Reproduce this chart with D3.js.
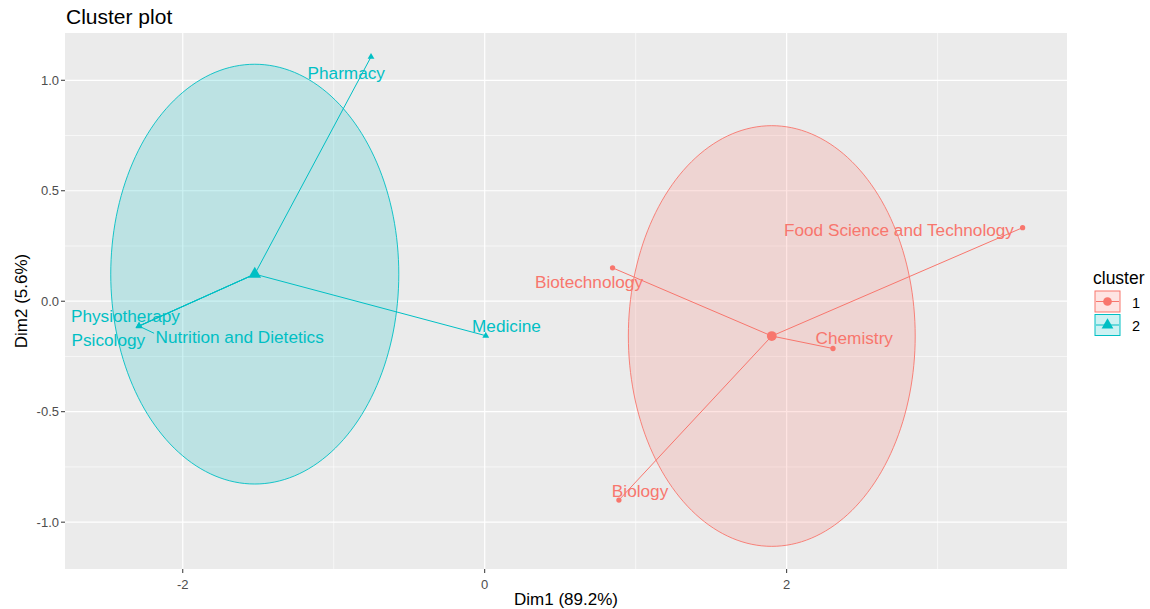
<!DOCTYPE html>
<html>
<head>
<meta charset="utf-8">
<script src="https://cdn.jsdelivr.net/npm/d3@7"></script>
<style>
  body { margin: 0; background: #fff; }
  text { font-family: "Liberation Sans", Arial, sans-serif; }
</style>
</head>
<body>
<div id="plot"></div>
<script>
// data
const names = ["Pharmacy", "Medicine", "Physiotherapy", "Psicology", "Nutrition and Dietetics",
  "Food Science and Technology", "Biotechnology", "Chemistry", "Biology"];
const dim1 = [-0.753, 0.007, -2.29, -2.29, -2.289, 3.563, 0.847, 2.307, 0.889];
const dim2 = [1.106, -0.156, -0.112, -0.112, -0.113, 0.333, 0.151, -0.214, -0.900];
const clusterOf = [2, 2, 2, 2, 2, 1, 1, 1, 1];
const clusters = [1, 2];
const ellipseRx = [0.950, 0.954];
const ellipseRy = [0.952, 0.950];
const xTicks = [-2, 0, 2];
const yTicks = [-1.0, -0.5, 0.0, 0.5, 1.0];

// label placement (repelled, in data units)
const labelAt = {
  "Pharmacy": [-0.917, 1.034],
  "Medicine": [0.144, -0.112],
  "Physiotherapy": [-2.380, -0.067],
  "Psicology": [-2.493, -0.175],
  "Nutrition and Dietetics": [-1.623, -0.163],
  "Food Science and Technology": [2.744, 0.324],
  "Biotechnology": [0.691, 0.088],
  "Chemistry": [2.448, -0.166],
  "Biology": [1.029, -0.857]
};
const segmentTo = { "Nutrition and Dietetics": [-2.19, -0.145] };

const width = 1150, height = 609;
const panel = { left: 65, right: 1067, top: 33, bottom: 569 };
const colors = { 1: "#F8766D", 2: "#00BFC4" };

const svg = d3.select("#plot").append("svg")
  .attr("width", width)
  .attr("height", height);

const x = d3.scaleLinear().domain([-2.78, 3.857]).range([panel.left, panel.right]);
const y = d3.scaleLinear().domain([-1.212, 1.214]).range([panel.bottom, panel.top]);

// panel background
svg.append("rect")
  .attr("x", panel.left).attr("y", panel.top)
  .attr("width", panel.right - panel.left).attr("height", panel.bottom - panel.top)
  .attr("fill", "#EBEBEB");

// grid lines, minor then major
const grid = svg.append("g");
const xMinor = [-1, 1, 3];
const yMinor = [-0.75, -0.25, 0.25, 0.75];
grid.selectAll(".xminor").data(xMinor).join("line")
  .attr("x1", d => x(d)).attr("x2", d => x(d))
  .attr("y1", panel.top).attr("y2", panel.bottom)
  .attr("stroke", "#fff").attr("stroke-width", 0.6);
grid.selectAll(".yminor").data(yMinor).join("line")
  .attr("y1", d => y(d)).attr("y2", d => y(d))
  .attr("x1", panel.left).attr("x2", panel.right)
  .attr("stroke", "#fff").attr("stroke-width", 0.6);
grid.selectAll(".xmajor").data(xTicks).join("line")
  .attr("x1", d => x(d)).attr("x2", d => x(d))
  .attr("y1", panel.top).attr("y2", panel.bottom)
  .attr("stroke", "#fff").attr("stroke-width", 1.2);
grid.selectAll(".ymajor").data(yTicks).join("line")
  .attr("y1", d => y(d)).attr("y2", d => y(d))
  .attr("x1", panel.left).attr("x2", panel.right)
  .attr("stroke", "#fff").attr("stroke-width", 1.2);

// points grouped by cluster
const pts = names.map((n, i) => ({ name: n, x: dim1[i], y: dim2[i], cluster: clusterOf[i] }));
const centers = clusters.map((c, k) => {
  const members = pts.filter(p => p.cluster === c);
  return { cluster: c, x: d3.mean(members, p => p.x), y: d3.mean(members, p => p.y),
    rx: ellipseRx[k], ry: ellipseRy[k] };
});

// ellipses
const angles = d3.range(0, 2 * Math.PI, Math.PI / 90);
const line = d3.line().x(d => x(d[0])).y(d => y(d[1])).curve(d3.curveLinearClosed);
svg.append("g").selectAll("path").data(centers).join("path")
  .attr("d", c => line(angles.map(a => [c.x + c.rx * Math.cos(a), c.y + c.ry * Math.sin(a)])))
  .attr("fill", c => colors[c.cluster])
  .attr("fill-opacity", 0.2)
  .attr("stroke", c => colors[c.cluster])
  .attr("stroke-width", 0.9);

// star lines from centroid
const centerOf = c => centers.find(k => k.cluster === c);
svg.append("g").selectAll("line").data(pts).join("line")
  .attr("x1", p => x(centerOf(p.cluster).x)).attr("y1", p => y(centerOf(p.cluster).y))
  .attr("x2", p => x(p.x)).attr("y2", p => y(p.y))
  .attr("stroke", p => colors[p.cluster])
  .attr("stroke-width", 1);

// label segments
svg.append("g").selectAll("line").data(pts.filter(p => segmentTo[p.name])).join("line")
  .attr("x1", p => x(p.x)).attr("y1", p => y(p.y))
  .attr("x2", p => x(segmentTo[p.name][0])).attr("y2", p => y(segmentTo[p.name][1]))
  .attr("stroke", p => colors[p.cluster])
  .attr("stroke-width", 1);

// point symbols
const symbolFor = (c, size) => d3.symbol().type(c === 1 ? d3.symbolCircle : d3.symbolTriangle).size(size)();
svg.append("g").selectAll("path").data(pts).join("path")
  .attr("transform", p => `translate(${x(p.x)},${y(p.y)})`)
  .attr("d", p => symbolFor(p.cluster, p.cluster === 1 ? 22 : 20))
  .attr("fill", p => colors[p.cluster]);
svg.append("g").selectAll("path").data(centers).join("path")
  .attr("transform", c => `translate(${x(c.x)},${y(c.y)})`)
  .attr("d", c => symbolFor(c.cluster, c.cluster === 1 ? 75 : 70))
  .attr("fill", c => colors[c.cluster]);

// point labels
svg.append("g").selectAll("text").data(pts).join("text")
  .attr("x", p => x(labelAt[p.name][0]))
  .attr("y", p => y(labelAt[p.name][1]))
  .attr("text-anchor", "middle")
  .attr("dominant-baseline", "central")
  .attr("font-size", 17.2)
  .attr("fill", p => colors[p.cluster])
  .text(p => p.name);

// axes
const axisCol = "#4D4D4D";
const hyphen = s => s.replace("\u2212", "-");
svg.append("g").selectAll("line").data(xTicks).join("line")
  .attr("x1", d => x(d)).attr("x2", d => x(d))
  .attr("y1", panel.bottom).attr("y2", panel.bottom + 4)
  .attr("stroke", "#333").attr("stroke-width", 1);
svg.append("g").selectAll("text").data(xTicks).join("text")
  .attr("x", d => x(d)).attr("y", panel.bottom + 15)
  .attr("text-anchor", "middle").attr("dominant-baseline", "central")
  .attr("font-size", 13).attr("fill", axisCol)
  .text(d => hyphen(d3.format("d")(d)));
svg.append("g").selectAll("line").data(yTicks).join("line")
  .attr("y1", d => y(d)).attr("y2", d => y(d))
  .attr("x1", panel.left - 4).attr("x2", panel.left)
  .attr("stroke", "#333").attr("stroke-width", 1);
svg.append("g").selectAll("text").data(yTicks).join("text")
  .attr("x", panel.left - 6).attr("y", d => y(d))
  .attr("text-anchor", "end").attr("dominant-baseline", "central")
  .attr("font-size", 13).attr("fill", axisCol)
  .text(d => hyphen(d3.format(".1f")(d)));

svg.append("text")
  .attr("x", (panel.left + panel.right) / 2).attr("y", 599)
  .attr("text-anchor", "middle").attr("dominant-baseline", "central")
  .attr("font-size", 17).attr("fill", "#000")
  .text("Dim1 (89.2%)");
svg.append("text")
  .attr("transform", `translate(21,${(panel.top + panel.bottom) / 2}) rotate(-90)`)
  .attr("text-anchor", "middle").attr("dominant-baseline", "central")
  .attr("font-size", 17).attr("fill", "#000")
  .text("Dim2 (5.6%)");

// title
svg.append("text")
  .attr("x", 66).attr("y", 24)
  .attr("font-size", 21).attr("fill", "#000")
  .text("Cluster plot");

// legend
const legend = svg.append("g");
legend.append("text")
  .attr("x", 1093).attr("y", 278)
  .attr("dominant-baseline", "central")
  .attr("font-size", 17.5).attr("fill", "#000")
  .text("cluster");
const key = legend.selectAll("g").data(clusters).join("g")
  .attr("transform", (c, i) => `translate(1095,${291 + i * 23.5})`);
key.append("rect")
  .attr("x", 0).attr("y", 0).attr("width", 25).attr("height", 21)
  .attr("fill", c => colors[c]).attr("fill-opacity", 0.2)
  .attr("stroke", c => colors[c]).attr("stroke-width", 1);
key.append("line")
  .attr("x1", 1).attr("x2", 24).attr("y1", 10.5).attr("y2", 10.5)
  .attr("stroke", c => colors[c]).attr("stroke-width", 1);
key.append("path")
  .attr("transform", "translate(12.5,10.5)")
  .attr("d", c => symbolFor(c, 60))
  .attr("fill", c => colors[c]);
key.append("text")
  .attr("x", 37).attr("y", 11.5)
  .attr("dominant-baseline", "central")
  .attr("font-size", 14.5).attr("fill", "#000")
  .text(c => c);
</script>
</body>
</html>
